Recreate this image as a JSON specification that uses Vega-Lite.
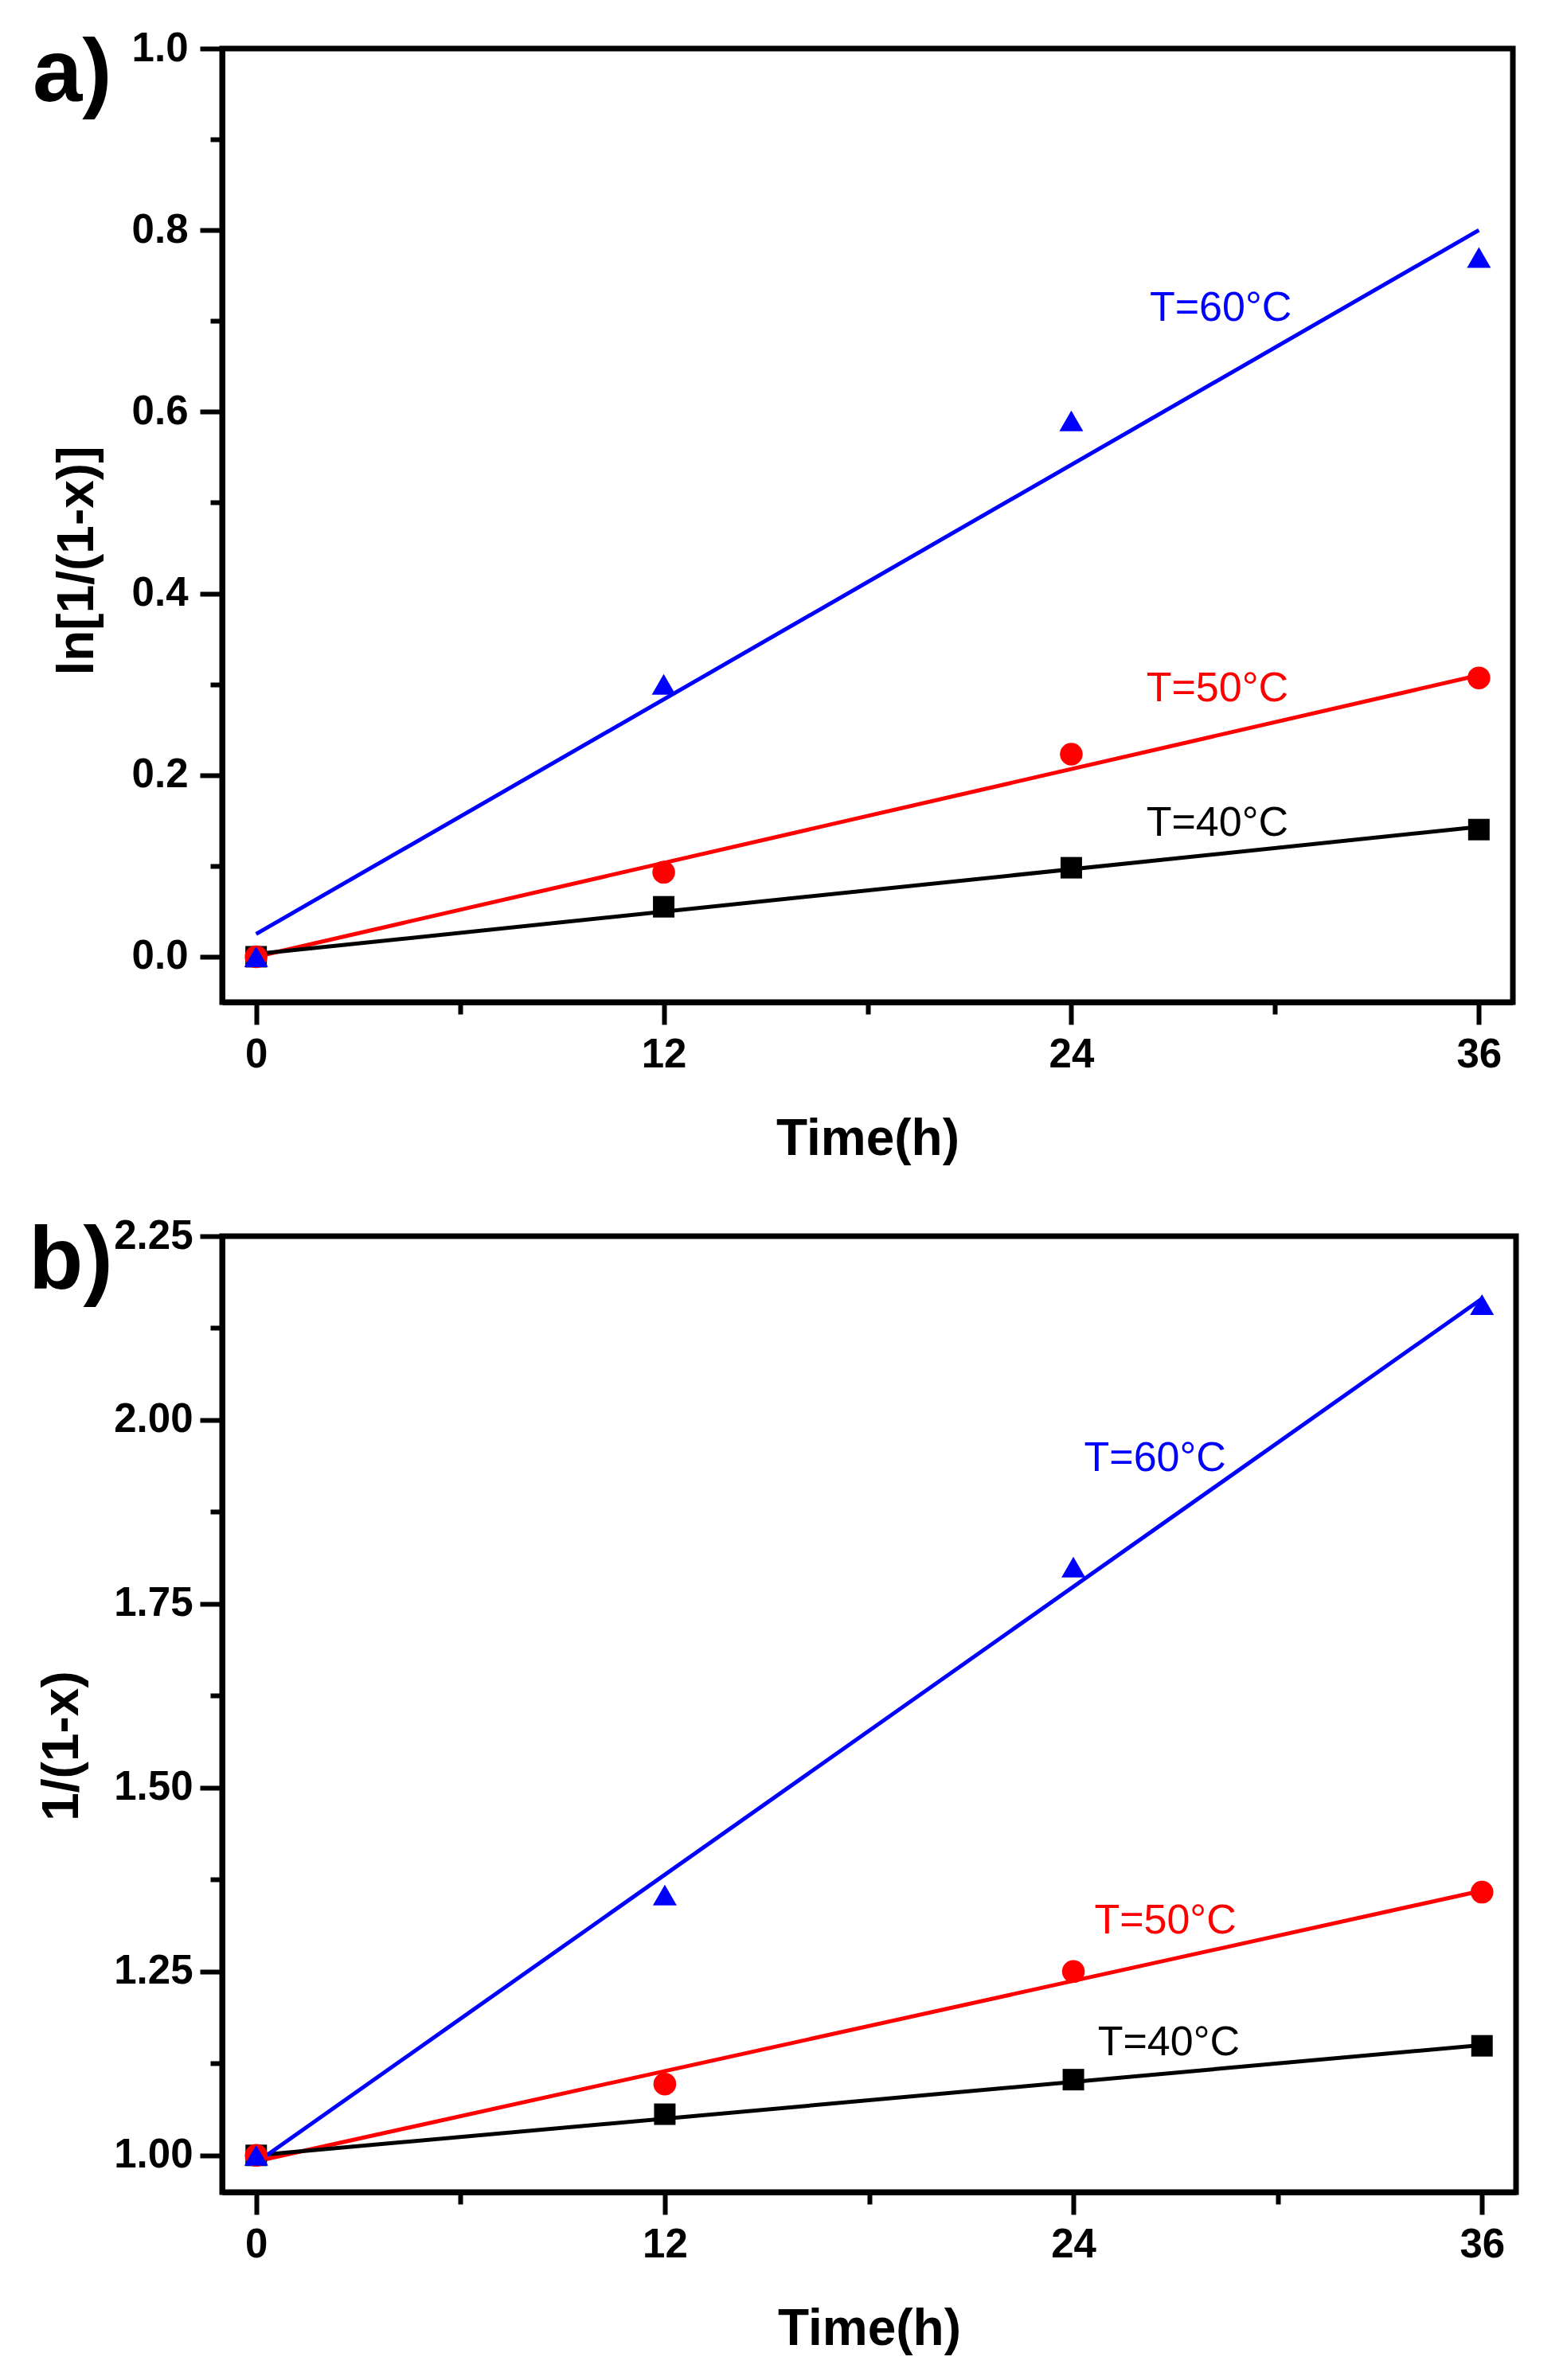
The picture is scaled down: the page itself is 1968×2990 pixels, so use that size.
{
  "$schema": "https://vega.github.io/schema/vega-lite/v6.json",
  "background": "white",
  "padding": {"left": 32, "top": 31, "right": 0, "bottom": 0},
  "autosize": {"type": "pad"},
  "bounds": "flush",
  "spacing": 294,
  "config": {
    "font": "Liberation Sans",
    "view": {"stroke": "black", "strokeWidth": 7},
    "axis": {
      "grid": false,
      "domainColor": "black",
      "domainWidth": 7,
      "tickColor": "black",
      "tickWidth": 6,
      "labelFont": "Liberation Sans",
      "labelFontSize": 51,
      "labelFontWeight": "bold",
      "labelColor": "black",
      "labelOverlap": false,
      "labelFlush": false,
      "titleFont": "Liberation Sans",
      "titleFontSize": 64,
      "titleFontWeight": "bold",
      "titleColor": "black"
    },
    "title": {
      "font": "Liberation Sans",
      "fontSize": 112,
      "fontWeight": "bold",
      "color": "black",
      "anchor": "start",
      "frame": "group",
      "baseline": "alphabetic",
      "offset": 0
    }
  },
  "datasets": {
    "a_points": [
      {"series": "T=40°C", "t": 0, "v": 0.0},
      {"series": "T=40°C", "t": 12, "v": 0.055},
      {"series": "T=40°C", "t": 24, "v": 0.098},
      {"series": "T=40°C", "t": 36, "v": 0.14},
      {"series": "T=50°C", "t": 0, "v": 0.0},
      {"series": "T=50°C", "t": 12, "v": 0.093},
      {"series": "T=50°C", "t": 24, "v": 0.223},
      {"series": "T=50°C", "t": 36, "v": 0.307},
      {"series": "T=60°C", "t": 0, "v": 0.0},
      {"series": "T=60°C", "t": 12, "v": 0.30},
      {"series": "T=60°C", "t": 24, "v": 0.59},
      {"series": "T=60°C", "t": 36, "v": 0.77}
    ],
    "a_fits": [
      {"series": "T=50°C", "t": 0, "v": 0.0},
      {"series": "T=50°C", "t": 36, "v": 0.31},
      {"series": "T=40°C", "t": 0, "v": 0.003},
      {"series": "T=40°C", "t": 36, "v": 0.143},
      {"series": "T=60°C", "t": 0, "v": 0.025},
      {"series": "T=60°C", "t": 36, "v": 0.80}
    ],
    "a_labels": [
      {"series": "T=60°C", "t": 28.4, "v": 0.714},
      {"series": "T=50°C", "t": 28.3, "v": 0.295},
      {"series": "T=40°C", "t": 28.3, "v": 0.147}
    ],
    "b_points": [
      {"series": "T=40°C", "t": 0, "v": 1.0},
      {"series": "T=40°C", "t": 12, "v": 1.056},
      {"series": "T=40°C", "t": 24, "v": 1.103},
      {"series": "T=40°C", "t": 36, "v": 1.149},
      {"series": "T=50°C", "t": 0, "v": 1.0},
      {"series": "T=50°C", "t": 12, "v": 1.097},
      {"series": "T=50°C", "t": 24, "v": 1.25},
      {"series": "T=50°C", "t": 36, "v": 1.358},
      {"series": "T=60°C", "t": 0, "v": 1.0},
      {"series": "T=60°C", "t": 12, "v": 1.354},
      {"series": "T=60°C", "t": 24, "v": 1.80},
      {"series": "T=60°C", "t": 36, "v": 2.157}
    ],
    "b_fits": [
      {"series": "T=50°C", "t": 0, "v": 0.992},
      {"series": "T=50°C", "t": 36, "v": 1.36},
      {"series": "T=40°C", "t": 0, "v": 1.0},
      {"series": "T=40°C", "t": 36, "v": 1.15},
      {"series": "T=60°C", "t": 0, "v": 0.99},
      {"series": "T=60°C", "t": 36, "v": 2.165}
    ],
    "b_labels": [
      {"series": "T=60°C", "t": 26.4, "v": 1.948},
      {"series": "T=50°C", "t": 26.7, "v": 1.319},
      {"series": "T=40°C", "t": 26.8, "v": 1.153}
    ]
  },
  "vconcat": [
    {
      "width": 1621,
      "height": 1198,
      "title": {"text": "a)", "dx": -238, "dy": 120},
      "encoding": {
        "x": {
          "field": "t",
          "type": "quantitative",
          "scale": {"domain": [-1, 37], "nice": false, "zero": false},
          "axis": {
            "title": "Time(h)",
            "values": [0, 6, 12, 18, 24, 30, 36],
            "labelExpr": "datum.value % 12 === 0 ? datum.label : ''",
            "tickSize": {"condition": {"test": "datum.value % 12 === 0", "value": 28}, "value": 15},
            "labelPadding": 13,
            "titleY": 191,
            "titleBaseline": "alphabetic"
          }
        },
        "y": {
          "field": "v",
          "type": "quantitative",
          "scale": {"domain": [-0.05, 1.0], "nice": false, "zero": false},
          "axis": {
            "title": "ln[1/(1-x)]",
            "values": [0, 0.1, 0.2, 0.3, 0.4, 0.5, 0.6, 0.7, 0.8, 0.9, 1.0],
            "format": ".1f",
            "labelExpr": "round(datum.value * 10) % 2 === 0 ? datum.label : ''",
            "tickSize": {"condition": {"test": "round(datum.value * 10) % 2 === 0", "value": 28}, "value": 15},
            "labelPadding": 15,
            "titleX": -182,
            "titleY": 643,
            "titleBaseline": "middle"
          }
        },
        "color": {
          "field": "series",
          "type": "nominal",
          "scale": {"domain": ["T=40°C", "T=50°C", "T=60°C"], "range": ["#000000", "#ff0000", "#0000ff"]},
          "legend": null
        }
      },
      "layer": [
        {
          "data": {"name": "a_fits"},
          "mark": {"type": "line", "strokeWidth": 5}
        },
        {
          "data": {"name": "a_points"},
          "mark": {"type": "point", "filled": true, "opacity": 1},
          "encoding": {
            "shape": {
              "field": "series",
              "type": "nominal",
              "scale": {"domain": ["T=40°C", "T=50°C", "T=60°C"], "range": ["square", "circle", "triangle-up"]},
              "legend": null
            },
            "size": {
              "field": "series",
              "type": "ordinal",
              "scale": {"domain": ["T=40°C", "T=50°C", "T=60°C"], "range": [729, 900, 1800]},
              "legend": null
            }
          }
        },
        {
          "data": {"name": "a_labels"},
          "mark": {"type": "text", "fontSize": 52, "align": "center", "baseline": "middle"},
          "encoding": {"text": {"field": "series"}}
        }
      ]
    },
    {
      "width": 1625,
      "height": 1201,
      "title": {"text": "b)", "dx": -243, "dy": 120},
      "encoding": {
        "x": {
          "field": "t",
          "type": "quantitative",
          "scale": {"domain": [-1, 37], "nice": false, "zero": false},
          "axis": {
            "title": "Time(h)",
            "values": [0, 6, 12, 18, 24, 30, 36],
            "labelExpr": "datum.value % 12 === 0 ? datum.label : ''",
            "tickSize": {"condition": {"test": "datum.value % 12 === 0", "value": 28}, "value": 15},
            "labelPadding": 13,
            "titleY": 191,
            "titleBaseline": "alphabetic"
          }
        },
        "y": {
          "field": "v",
          "type": "quantitative",
          "scale": {"domain": [0.95, 2.25], "nice": false, "zero": false},
          "axis": {
            "title": "1/(1-x)",
            "values": [1.0, 1.125, 1.25, 1.375, 1.5, 1.625, 1.75, 1.875, 2.0, 2.125, 2.25],
            "format": ".2f",
            "labelExpr": "round(datum.value * 8) % 2 === 0 ? datum.label : ''",
            "tickSize": {"condition": {"test": "round(datum.value * 8) % 2 === 0", "value": 28}, "value": 15},
            "labelPadding": 9,
            "titleX": -201,
            "titleY": 640,
            "titleBaseline": "middle"
          }
        },
        "color": {
          "field": "series",
          "type": "nominal",
          "scale": {"domain": ["T=40°C", "T=50°C", "T=60°C"], "range": ["#000000", "#ff0000", "#0000ff"]},
          "legend": null
        }
      },
      "layer": [
        {
          "data": {"name": "b_fits"},
          "mark": {"type": "line", "strokeWidth": 5}
        },
        {
          "data": {"name": "b_points"},
          "mark": {"type": "point", "filled": true, "opacity": 1},
          "encoding": {
            "shape": {
              "field": "series",
              "type": "nominal",
              "scale": {"domain": ["T=40°C", "T=50°C", "T=60°C"], "range": ["square", "circle", "triangle-up"]},
              "legend": null
            },
            "size": {
              "field": "series",
              "type": "ordinal",
              "scale": {"domain": ["T=40°C", "T=50°C", "T=60°C"], "range": [729, 900, 1800]},
              "legend": null
            }
          }
        },
        {
          "data": {"name": "b_labels"},
          "mark": {"type": "text", "fontSize": 52, "align": "center", "baseline": "middle"},
          "encoding": {"text": {"field": "series"}}
        }
      ]
    }
  ]
}
